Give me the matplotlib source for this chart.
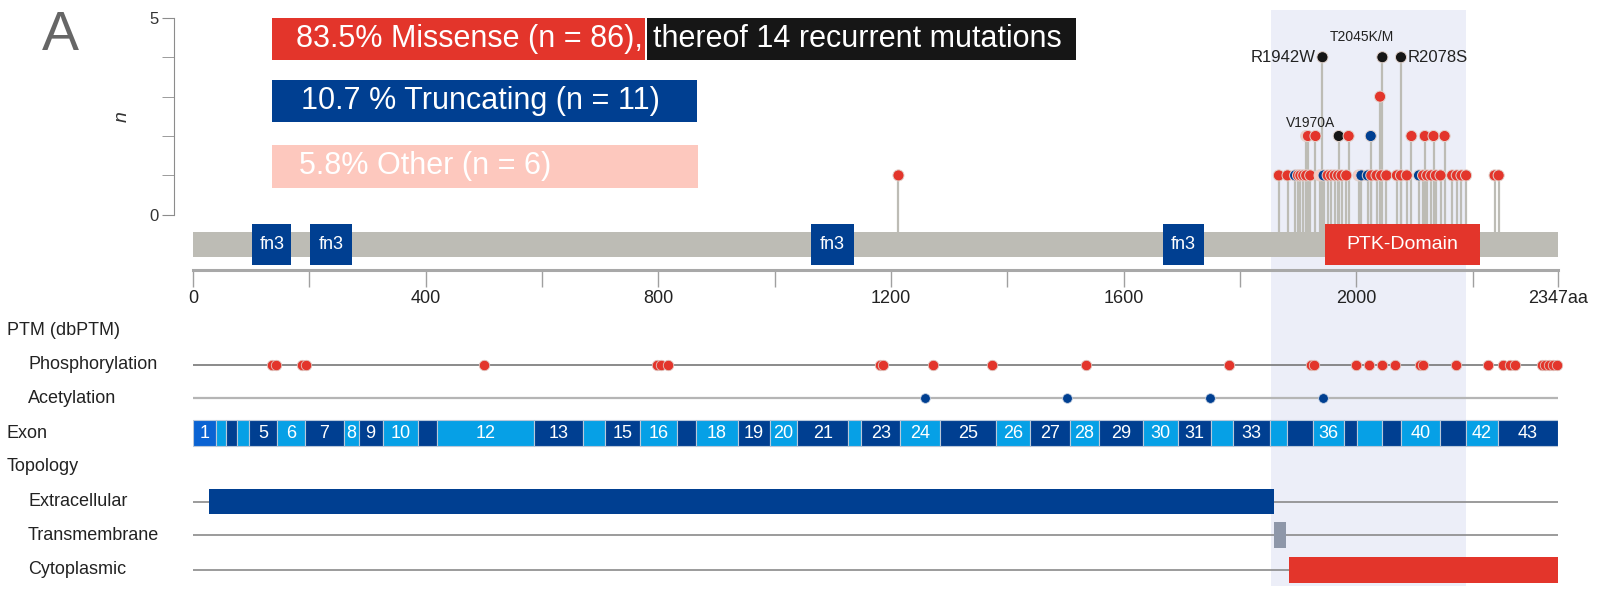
#!/usr/bin/env python3

import matplotlib
matplotlib.use("Agg")
import matplotlib.pyplot as plt
from matplotlib.patches import Rectangle
from matplotlib.transforms import blended_transform_factory

plt.rcParams["font.family"] = ["Liberation Sans", "DejaVu Sans"]

PROTEIN_LENGTH = 2347

# mutations (amino-acid position, number of cases)
missense_pos = [1213, 1867, 1882, 1900, 1904, 1909, 1914, 1921, 1951, 1957, 1963, 1969,
                1975, 1983, 2026, 2035, 2043, 2052, 2070, 2077, 2087, 2115, 2122, 2129,
                2137, 2145, 2165, 2173, 2181, 2189, 2238, 2245,
                1917, 1930, 1987, 2095, 2118, 2133, 2152, 2041]
missense_n = [1, 1, 1, 1, 1, 1, 1, 1, 1, 1, 1, 1,
              1, 1, 1, 1, 1, 1, 1, 1, 1, 1, 1, 1,
              1, 1, 1, 1, 1, 1, 1, 1,
              2, 2, 2, 2, 2, 2, 2, 3]
truncating_pos = [1895, 1944, 2009, 2020, 2108, 2025]
truncating_n = [1, 1, 1, 1, 1, 2]
other_pos = [1914, 1937, 2004]
other_n = [2, 1, 1]
recurrent_pos = [1942, 1970, 2045, 2077]
recurrent_n = [4, 2, 4, 4]
recurrent_labels = ["R1942W", "V1970A", "T2045K/M", "R2078S"]

# protein domains
domain_names = ["fn3", "fn3", "fn3", "fn3", "PTK-Domain"]
domain_start = [102, 202, 1062, 1668, 1947]
domain_end = [169, 273, 1137, 1738, 2213]

# highlighted region (kinase region)
highlight_start = 1853
highlight_end = 2189

# post-translational modifications
phospho_pos = [135, 143, 187, 195, 500, 798, 805, 816, 1182, 1186, 1273, 1374, 1535,
               1782, 1922, 1928, 2000, 2022, 2045, 2067, 2109, 2115, 2172, 2226, 2253,
               2265, 2273, 2320, 2325, 2332, 2338, 2346]
acetyl_pos = [1258, 1503, 1748, 1943]

# exons
exon_start = [0, 39, 57, 76, 96, 145, 192, 259, 285, 326, 387, 420, 586, 670, 708,
              768, 832, 865, 937, 992, 1039, 1127, 1149, 1216, 1285, 1380, 1439, 1508,
              1557, 1634, 1693, 1750, 1788, 1852, 1881, 1926, 1979, 2002, 2045, 2077,
              2144, 2188, 2243]
exon_labels = ["1", "", "", "", "5", "6", "7", "8", "9", "10", "", "12", "13", "", "15",
               "16", "", "18", "19", "20", "21", "", "23", "24", "25", "26", "27", "28",
               "29", "30", "31", "", "33", "", "", "36", "", "", "", "40",
               "", "42", "43"]

# topology
topo_names = ["Extracellular", "Transmembrane", "Cytoplasmic"]
topo_start = [27, 1859, 1884]
topo_end = [1858, 1880, 2347]

RED = "#E3352B"
BLUE = "#003F91"
PINK = "#FDC8BE"
BLACK = "#161616"
LIGHT = "#06A0E6"
GREY_BAR = "#BDBCB5"

W, H = 1599, 608

fig = plt.figure(figsize=(W / 100, H / 100), dpi=100)
ax = fig.add_axes([193 / W, 15 / H, 1365 / W, 587 / H])
ax.set_xlim(0, PROTEIN_LENGTH)
ax.set_ylim(-9.6, 5.3)

# rows (y positions below the lollipop scale)
BAR_Y, BAR_H = -0.755, 0.62
RULER_Y = -1.40
ROW_PTM, ROW_PHOS, ROW_ACE, ROW_EXON = -2.93, -3.81, -4.66, -5.54
ROW_TOPO = -6.40
ROW_TRACKS = [-7.28, -8.13, -9.01]
TRACK_H = 0.65

ax.add_patch(Rectangle((highlight_start, -9.43), highlight_end - highlight_start, 14.63,
                       color="#ECEEF8", zorder=0, lw=0))

# lollipop stems
all_pos = missense_pos + truncating_pos + other_pos + recurrent_pos
all_n = missense_n + truncating_n + other_n + recurrent_n
all_col = ([RED] * len(missense_pos) + [BLUE] * len(truncating_pos)
           + [PINK] * len(other_pos) + [BLACK] * len(recurrent_pos))
ax.vlines(all_pos, BAR_Y + BAR_H / 2, all_n, color=GREY_BAR, lw=1.6, zorder=2)

# protein backbone and domains
ax.add_patch(Rectangle((0, BAR_Y - BAR_H / 2), PROTEIN_LENGTH, BAR_H,
                       color=GREY_BAR, lw=0, zorder=3))
for name, s, e in zip(domain_names, domain_start, domain_end):
    col = RED if name.startswith("PTK") else BLUE
    ax.add_patch(Rectangle((s, BAR_Y - 0.53), e - s, 1.06, color=col, lw=0, zorder=4))
    ax.text((s + e) / 2, BAR_Y, name, color="white", ha="center", va="center",
            fontsize=14 if name.startswith("PTK") else 13, zorder=5)

# lollipop heads, left to right so overlaps stack like the original
order = sorted(range(len(all_pos)), key=lambda i: (all_n[i], all_pos[i]))
ax.scatter([all_pos[i] for i in order], [all_n[i] for i in order],
           c=[all_col[i] for i in order], s=64, edgecolors="#E2D2CC",
           linewidths=0.7, zorder=6, clip_on=False)

offsets = {"R1942W": (-7, 0, "right", 12), "V1970A": (-4, 13, "right", 10),
           "T2045K/M": (-20, 20, "center", 10), "R2078S": (7, 0, "left", 12)}
for p, n, lab in zip(recurrent_pos, recurrent_n, recurrent_labels):
    dx, dy, ha, fs = offsets[lab]
    ax.annotate(lab, (p, n), xytext=(dx, dy), textcoords="offset pixels",
                ha=ha, va="center", fontsize=fs, color="#222222", zorder=7)

# y axis
for side in ["top", "right", "bottom"]:
    ax.spines[side].set_visible(False)
ax.spines["left"].set_position(("outward", 14))
ax.spines["left"].set_bounds(0, 5)
ax.spines["left"].set_color("#8c8c8c")
ax.set_xticks([])
ax.set_yticks([0, 5])
ax.set_yticks([1, 2, 3, 4], minor=True)
ax.tick_params(axis="y", which="both", length=8.5, color="#8c8c8c",
               labelsize=12, labelcolor="#333333", pad=2)
ax.set_ylabel("n", fontstyle="italic", fontsize=14, color="#333333")
ax.yaxis.set_label_coords(131 / W, 2.5,
                          transform=blended_transform_factory(fig.transFigure, ax.transData))

# ruler
ruler = ax.secondary_xaxis(RULER_Y, transform=ax.transData)
ruler.set_xticks([0, 400, 800, 1200, 1600, 2000, 2347],
                 labels=["0", "400", "800", "1200", "1600", "2000", "2347aa"])
ruler.set_xticks([200, 600, 1000, 1400, 1800, 2200], minor=True)
ruler.tick_params(which="both", length=12.5, width=1, color="#a0a0a0",
                  labelsize=13, labelcolor="#222222", pad=2)
ruler.spines["bottom"].set_color("#a8a8a8")
ruler.spines["bottom"].set_linewidth(2.2)

# left row labels
lab_tr = blended_transform_factory(fig.transFigure, ax.transData)
rows = [("PTM (dbPTM)", ROW_PTM, 7), ("Phosphorylation", ROW_PHOS, 28),
        ("Acetylation", ROW_ACE, 28), ("Exon", ROW_EXON, 7), ("Topology", ROW_TOPO, 7)]
rows += [(nm, y, 28) for nm, y in zip(topo_names, ROW_TRACKS)]
for txt, y, x in rows:
    ax.text(x / W, y, txt, transform=lab_tr, ha="left", va="center",
            fontsize=13, color="#222222")

# PTM tracks
ax.hlines(ROW_PHOS, 0, PROTEIN_LENGTH, color="#777777", lw=1.2, zorder=2)
ax.hlines(ROW_ACE, 0, PROTEIN_LENGTH, color="#b5b5b5", lw=1.6, zorder=2)
ax.plot(phospho_pos, [ROW_PHOS] * len(phospho_pos), "o", ms=7.5, color=RED,
        mec="#E0C6C0", mew=0.6, zorder=4, clip_on=False)
ax.plot(acetyl_pos, [ROW_ACE] * len(acetyl_pos), "o", ms=7, color=BLUE,
        mec="#c9d3e3", mew=0.6, zorder=4)

# exons
exon_end = exon_start[1:] + [PROTEIN_LENGTH]
for i, (s, e, lab) in enumerate(zip(exon_start, exon_end, exon_labels)):
    num = i + 1
    col = "#0A63D3" if num == 1 else (LIGHT if num % 2 == 0 else BLUE)
    ax.add_patch(Rectangle((s, ROW_EXON - TRACK_H / 2), e - s, TRACK_H, facecolor=col,
                           edgecolor="#b9c8da", lw=0.8, zorder=3))
    if lab:
        ax.text((s + e) / 2, ROW_EXON, lab, color="white", ha="center", va="center",
                fontsize=13, zorder=4)

# topology
topo_cols = [BLUE, "#8E97A9", RED]
for y, s, e, col in zip(ROW_TRACKS, topo_start, topo_end, topo_cols):
    ax.hlines(y, 0, PROTEIN_LENGTH, color="#8a8a8a", lw=1.2, zorder=2)
    ax.add_patch(Rectangle((s, y - TRACK_H / 2), e - s, TRACK_H, color=col, lw=0, zorder=3))

# legend boxes (figure pixels)
def box(x0, x1, y0, y1, col):
    fig.add_artist(Rectangle((x0 / W, 1 - y1 / H), (x1 - x0) / W, (y1 - y0) / H,
                             transform=fig.transFigure, color=col, lw=0))

box(272, 645, 18, 60, RED)
box(647, 1076, 18, 60, BLACK)
box(272, 697, 80, 122, BLUE)
box(272, 698, 145, 188, PINK)
fig.text(296 / W, 1 - 39 / H, "83.5% Missense (n = 86),", color="white", fontsize=22,
         va="center")
fig.text(653 / W, 1 - 39 / H, "thereof 14 recurrent mutations", color="white",
         fontsize=22, va="center")
fig.text(301 / W, 1 - 101 / H, "10.7 % Truncating (n = 11)", color="white", fontsize=22,
         va="center")
fig.text(299 / W, 1 - 166 / H, "5.8% Other (n = 6)", color="white", fontsize=22,
         va="center")

fig.text(42 / W, 1 - 50 / H, "A", fontsize=40, color="#666666", va="baseline")

fig.savefig("out.png", dpi=100)
